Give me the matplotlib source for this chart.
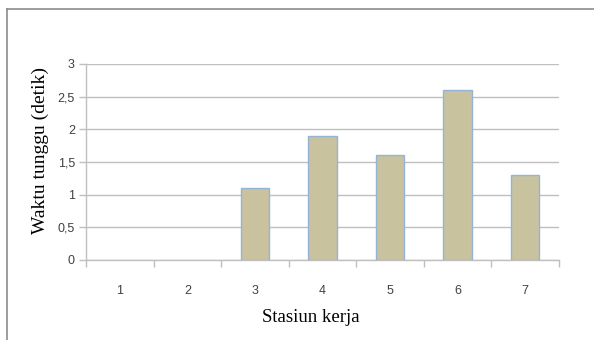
import numpy as np
import matplotlib
matplotlib.use('Agg')
import matplotlib.pyplot as plt
from matplotlib.lines import Line2D
from matplotlib.ticker import FuncFormatter, FixedLocator

# Data
stations = ['1', '2', '3', '4', '5', '6', '7']
waiting_time = [0, 0, 1.1, 1.9, 1.6, 2.6, 1.3]
y_ticks = [0, 0.5, 1, 1.5, 2, 2.5, 3]

grid_color = '#bfbfbf'
text_color = '#404040'

fig = plt.figure(figsize=(5.94, 3.40), dpi=100)
ax = fig.add_axes([86 / 594, 1 - 260 / 340, (559 - 86) / 594, (260 - 64) / 340])

x = np.arange(len(stations))
# empty stations get no outline, like the original
edges = ['#95b3d7' if v > 0 else 'none' for v in waiting_time]
ax.bar(x, waiting_time, width=0.42, color='#c8c29e', edgecolor=edges,
       linewidth=1.0, zorder=3)

ax.set_xlim(-0.5, len(stations) - 0.5)
ax.set_ylim(0, 3)
ax.set_yticks(y_ticks)
ax.yaxis.set_major_formatter(FuncFormatter(lambda v, p: f'{v:g}'.replace('.', ',')))
ax.yaxis.grid(True, color=grid_color, linewidth=1.0, zorder=0)

# category labels centred, tick marks on the category boundaries
ax.set_xticks(x)
ax.set_xticklabels(stations)
ax.xaxis.set_minor_locator(FixedLocator(np.arange(-0.5, len(stations), 1.0)))
ax.tick_params(axis='x', which='major', length=0, pad=18, labelsize=9,
               labelcolor=text_color)
ax.tick_params(axis='x', which='minor', length=5, color=grid_color, width=1)
ax.tick_params(axis='y', length=5, color=grid_color, width=1, pad=3,
               labelsize=9, labelcolor=text_color)
for lab in ax.get_xticklabels() + ax.get_yticklabels():
    lab.set_family('Liberation Sans')

for side in ['top', 'right']:
    ax.spines[side].set_visible(False)
for side in ['left', 'bottom']:
    ax.spines[side].set_color(grid_color)
    ax.spines[side].set_linewidth(1.0)

fig.text(40 / 594, 1 - 150 / 340, 'Waktu tunggu (detik)', rotation=90,
         ha='center', va='center', fontsize=14, family='Liberation Serif')
fig.text(311 / 594, 1 - 318 / 340, 'Stasiun kerja', ha='center', va='center',
         fontsize=13.5, family='Liberation Serif')

# outer chart border (only top and left edges visible)
fig.add_artist(Line2D([7 / 594, 1.0], [1 - 9 / 340, 1 - 9 / 340],
                      transform=fig.transFigure, color='#8c8c8c', linewidth=1.2))
fig.add_artist(Line2D([7 / 594, 7 / 594], [0, 1 - 9 / 340],
                      transform=fig.transFigure, color='#8c8c8c', linewidth=1.2))

fig.savefig('out.png', dpi=100)
